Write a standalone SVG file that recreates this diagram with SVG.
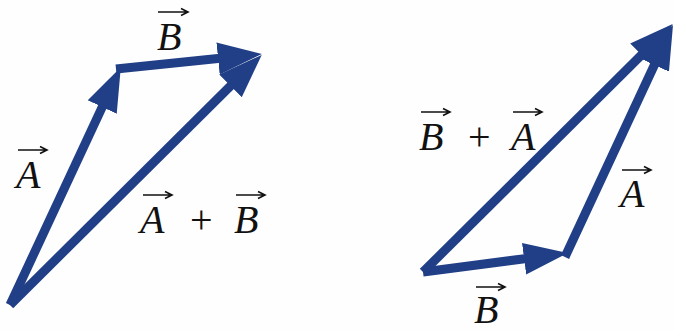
<svg xmlns="http://www.w3.org/2000/svg" width="674" height="331" viewBox="0 0 674 331">
<style>
.v{stroke:#203f86;stroke-width:9;fill:none;stroke-linecap:butt;marker-end:url(#head)}
.t{font-family:"Liberation Serif","DejaVu Serif",serif;font-style:italic;font-size:40px;fill:#111}
.p{font-family:"Liberation Serif","DejaVu Serif",serif;font-size:40px;fill:#111}
.o{stroke:#111;stroke-width:1.6;fill:none}
</style>
<defs>
<marker id="head" markerUnits="userSpaceOnUse" markerWidth="46" markerHeight="34" viewBox="0 0 46 34" refX="12" refY="17" orient="auto">
<path d="M0,1 L44,17 L0,33 z" fill="#203f86"/>
</marker>
</defs>
<rect width="674" height="331" fill="#fefefe"/>
<g id="connectors">
<line class="v" x1="10" y1="305" x2="107.3" y2="96.2"/>
<line class="v" x1="116" y1="69" x2="230" y2="57.3"/>
<line class="v" x1="10" y1="305" x2="239" y2="77.5"/>
<line class="v" x1="423" y1="272" x2="536" y2="257.2"/>
<line class="v" x1="565" y1="257" x2="659.5" y2="54"/>
<line class="v" x1="423" y1="272" x2="650" y2="46.5"/>
</g>
<g id="label-B-top">
<text class="t" x="157" y="50">B</text>
<path class="o" d="M158,12 H188 M181,8.5 L188,12 L181,15.5"/>
</g>
<g id="label-A-left">
<text class="t" x="16" y="188">A</text>
<path class="o" d="M18,150 H47 M40,146.5 L47,150 L40,153.5"/>
</g>
<g id="label-AplusB">
<text class="t" x="140" y="233">A</text>
<text class="p" x="190" y="233">+</text>
<text class="t" x="234" y="233">B</text>
<path class="o" d="M143,195 H172 M165,191.5 L172,195 L165,198.5"/>
<path class="o" d="M236,195 H265 M258,191.5 L265,195 L258,198.5"/>
</g>
<g id="label-BplusA">
<text class="t" x="419" y="150">B</text>
<text class="p" x="468" y="150">+</text>
<text class="t" x="511" y="150">A</text>
<path class="o" d="M421,112 H450 M443,108.5 L450,112 L443,115.5"/>
<path class="o" d="M513,112 H542 M535,108.5 L542,112 L535,115.5"/>
</g>
<g id="label-A-right">
<text class="t" x="620" y="207">A</text>
<path class="o" d="M622,170 H651 M644,166.5 L651,170 L644,173.5"/>
</g>
<g id="label-B-bottom">
<text class="t" x="474" y="323">B</text>
<path class="o" d="M476,287 H505 M498,283.5 L505,287 L498,290.5"/>
</g>
</svg>
